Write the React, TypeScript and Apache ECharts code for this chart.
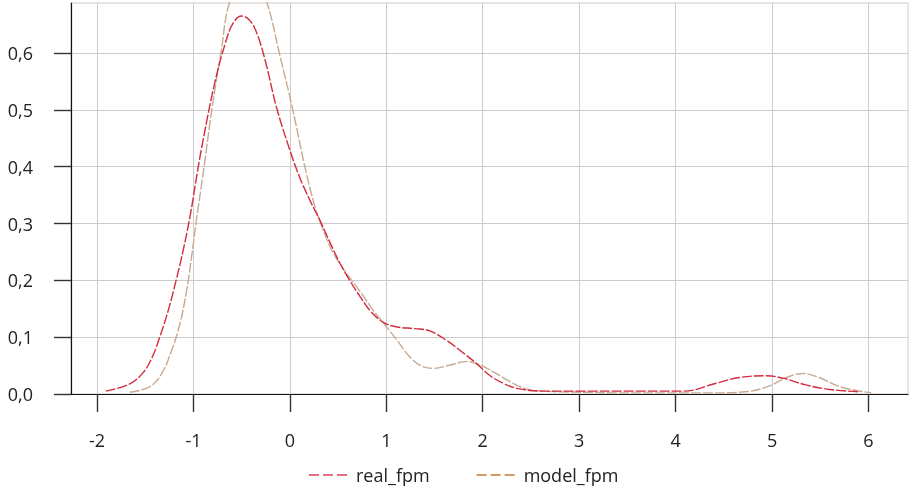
import React, { useEffect, useRef } from "react";
import * as echarts from "echarts";

const xTicks = [-2, -1, 0, 1, 2, 3, 4, 5, 6];
const yTicks = [0, 0.1, 0.2, 0.3, 0.4, 0.5, 0.6];

const realX = [-1.91, -1.66, -1.52, -1.43, -1.35, -1.26, -1.18, -1.1, -1.03, -0.96, -0.9, -0.78, -0.67, -0.59, -0.5, -0.41, -0.33, -0.24, -0.14, 0.0, 0.1, 0.21, 0.31, 0.42, 0.52, 0.62, 0.73, 0.83, 0.97, 1.11, 1.3, 1.45, 1.62, 1.8, 1.94, 2.07, 2.21, 2.38, 2.66, 3.0, 3.5, 4.08, 4.42, 4.66, 4.94, 5.11, 5.35, 5.6, 5.89];
const realY = [0.005, 0.018, 0.038, 0.064, 0.1, 0.148, 0.2, 0.258, 0.318, 0.39, 0.447, 0.547, 0.617, 0.652, 0.665, 0.656, 0.629, 0.576, 0.505, 0.429, 0.382, 0.34, 0.306, 0.265, 0.23, 0.2, 0.171, 0.147, 0.126, 0.118, 0.115, 0.111, 0.095, 0.072, 0.053, 0.033, 0.019, 0.009, 0.005, 0.005, 0.005, 0.005, 0.019, 0.029, 0.032, 0.028, 0.016, 0.008, 0.004];

const modelX = [-1.66, -1.45, -1.33, -1.226, -1.14, -1.07, -1.019, -0.974, -0.89, -0.81, -0.715, -0.63, -0.43, -0.235, -0.11, 0.03, 0.155, 0.259, 0.345, 0.449, 0.588, 0.73, 0.86, 0.97, 1.11, 1.24, 1.38, 1.49, 1.66, 1.83, 1.94, 2.11, 2.28, 2.45, 2.63, 2.9, 3.5, 4.4, 4.73, 4.97, 5.15, 5.32, 5.49, 5.7, 6.03];
const modelY = [0.003, 0.013, 0.036, 0.077, 0.124, 0.183, 0.242, 0.3, 0.4, 0.5, 0.6, 0.687, 0.77, 0.687, 0.6, 0.5, 0.4, 0.33, 0.289, 0.248, 0.212, 0.18, 0.148, 0.125, 0.095, 0.066, 0.048, 0.045, 0.051, 0.057, 0.053, 0.039, 0.022, 0.009, 0.005, 0.0035, 0.002, 0.002, 0.004, 0.014, 0.029, 0.036, 0.029, 0.013, 0.002];

const seriesNames = ["real_fpm", "model_fpm"];

export default function App() {
  const ref = useRef<HTMLDivElement>(null);
  useEffect(() => {
    if (!ref.current) return;
    const chart = echarts.init(ref.current, null, { renderer: "svg" });
    const font = "'Open Sans', 'Noto Sans', sans-serif";
    chart.setOption({
      animation: false,
      grid: {
        left: 71,
        right: 4,
        top: 3,
        bottom: 95,
        containLabel: false,
        outerBoundsMode: "none",
        show: true,
        borderColor: "#cccccc",
        borderWidth: 1,
      },
      legend: {
        bottom: 0,
        left: 303,
        itemWidth: 42,
        itemHeight: 14,
        itemGap: 46,
        itemStyle: { opacity: 0 },
        textStyle: { fontFamily: font, fontSize: 18, color: "#222" },
        data: [
          { name: seriesNames[0], itemStyle: { opacity: 0 }, lineStyle: { color: "#e07282", type: [10, 4], width: 2 } },
          { name: seriesNames[1], itemStyle: { opacity: 0 }, lineStyle: { color: "#d39b62", type: [10, 4], width: 2 } },
        ],
      },
      xAxis: {
        type: "value",
        min: -2.27,
        max: 6.41,
        axisLine: { show: true, onZero: false, lineStyle: { color: "#111", width: 1.2 } },
        axisTick: { show: true, inside: false, length: 18, customValues: xTicks, lineStyle: { color: "#333", width: 1.4 } },
        axisLabel: {
          customValues: xTicks,
          margin: 37,
          fontFamily: font,
          fontSize: 18,
          color: "#222",
        },
        splitLine: { show: true, lineStyle: { color: "#cccccc", width: 1 } },
      },
      yAxis: {
        type: "value",
        min: 0,
        max: 0.688,
        axisLine: { show: true, onZero: false, lineStyle: { color: "#111", width: 1.2 } },
        axisTick: { show: true, inside: false, length: 17, customValues: yTicks, lineStyle: { color: "#333", width: 1.4 } },
        axisLabel: {
          customValues: yTicks,
          margin: 38,
          fontFamily: font,
          fontSize: 18,
          color: "#222",
          formatter: (v: number) => v.toFixed(1).replace(".", ","),
        },
        splitLine: { show: true, lineStyle: { color: "#cccccc", width: 1 } },
      },
      series: [
        {
          name: seriesNames[0],
          type: "line",
          smooth: 0.4,
          showSymbol: false,
          symbol: "none",
          data: realX.map((x, i) => [x, realY[i]]),
          lineStyle: { color: "#d42a3e", width: 1.4, type: [10, 2] },
          itemStyle: { color: "#d42a3e" },
          z: 3,
        },
        {
          name: seriesNames[1],
          type: "line",
          smooth: 0.4,
          showSymbol: false,
          symbol: "none",
          data: modelX.map((x, i) => [x, modelY[i]]),
          lineStyle: { color: "#c7aa92", width: 1.4, type: [10, 2] },
          itemStyle: { color: "#c7aa92" },
          z: 2,
        },
      ],
    });
    return () => chart.dispose();
  }, []);
  return (
    <div
      ref={ref}
      style={{ position: "fixed", left: 0, top: 0, width: 912, height: 489 }}
    />
  );
}
